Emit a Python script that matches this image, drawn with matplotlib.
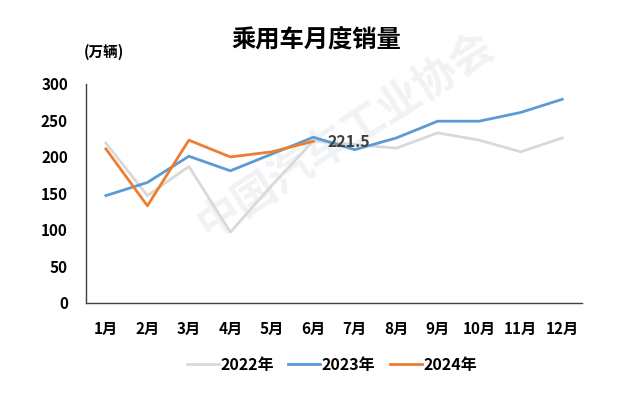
import matplotlib
matplotlib.use("Agg")
import matplotlib.pyplot as plt
import numpy as np

plt.rcParams['font.family'] = ['Noto Sans CJK SC', 'DejaVu Sans']

months = ['1月', '2月', '3月', '4月', '5月', '6月', '7月', '8月', '9月', '10月', '11月', '12月']
sales_2022 = [219, 147, 187, 97, 161, 222, 217, 212, 233, 223, 207, 226]
sales_2023 = [147, 165, 201, 181, 204, 227, 210, 226, 249, 249, 261, 279]
sales_2024 = [211, 133, 223, 200, 207, 221.5]

fig = plt.figure(figsize=(6.3, 3.98), dpi=100)
ax = fig.add_axes([0.1365, 0.239, 0.7875, 0.55])
ax.set_zorder(1)

# 水印
fig.text(0.548, 0.66, '中国汽车工业协会', fontsize=31, color='#f0f2f4', rotation=33,
         ha='center', va='center', fontweight='bold', zorder=0)

x = np.arange(len(months))
ax.plot(x, sales_2022, color='#d9d9d9', lw=2.0, label='2022年', zorder=3)
ax.plot(x, sales_2023, color='#5b9bd5', lw=2.0, label='2023年', zorder=4)
ax.plot(x[:len(sales_2024)], sales_2024, color='#ed7d31', lw=2.0, label='2024年', zorder=5)

# 最后一个点的数据标签
ax.text(x[len(sales_2024) - 1] + 0.33, sales_2024[-1] - 1, '221.5', fontsize=11.5,
        fontweight='bold', color='#404040', va='center', ha='left', zorder=6)

ax.set_ylim(0, 300)
ax.set_xlim(-0.48, 11.48)
ax.set_yticks(range(0, 301, 50))
ax.set_xticks(x)
ax.set_xticklabels(months)
ax.tick_params(length=0, labelsize=11)
for lbl in ax.get_xticklabels() + ax.get_yticklabels():
    lbl.set_fontweight('bold')
ax.tick_params(axis='y', pad=13)
ax.tick_params(axis='x', pad=13)

for side in ['top', 'right']:
    ax.spines[side].set_visible(False)
ax.spines['left'].set_color('#404040')
ax.spines['bottom'].set_color('#404040')
ax.spines['left'].set_linewidth(1.0)
ax.spines['bottom'].set_linewidth(1.0)
ax.patch.set_alpha(0)

fig.text(0.502, 0.9, '乘用车月度销量', fontsize=17.5, fontweight='bold', ha='center', va='center')
fig.text(0.133, 0.869, '(万辆)', fontsize=10.5, fontweight='bold', ha='left', va='center')

leg = fig.legend(loc='center', bbox_to_anchor=(0.527, 0.083), ncol=3, frameon=False,
                 prop={'weight': 'bold', 'size': 11.5}, handlelength=2.0, columnspacing=0.9,
                 handletextpad=0.1)

fig.savefig('out.png', dpi=100)
